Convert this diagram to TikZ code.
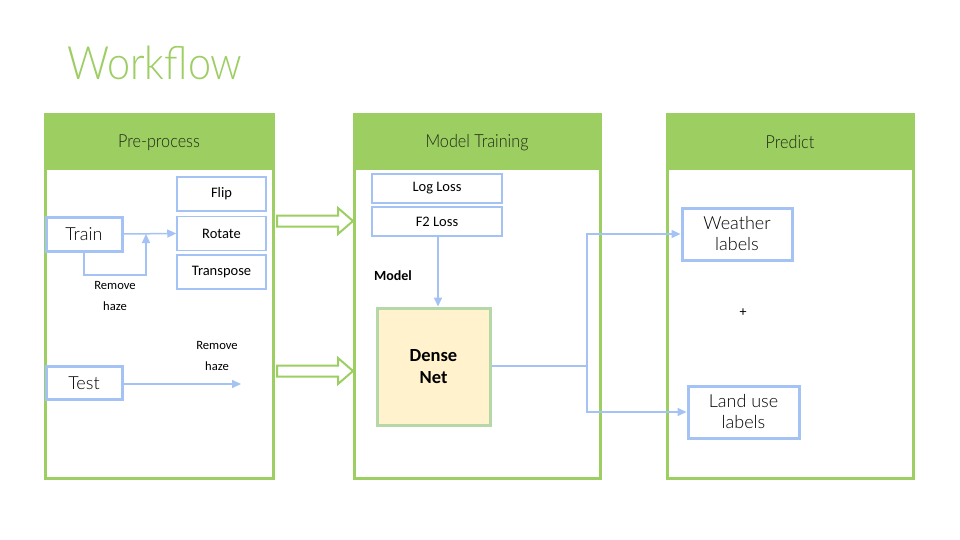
\documentclass[tikz,border=0pt]{standalone}
\usepackage{fontspec}
\setmainfont{Carlito}
\newfontfamily\thin{Lato Light}
\newfontfamily\thinnar{Lato Light}[FakeStretch=0.9]
\usetikzlibrary{arrows.meta}
\definecolor{pgreen}{RGB}{156,206,98}
\definecolor{pblue}{RGB}{164,194,244}
\definecolor{dgreen}{RGB}{182,215,168}
\definecolor{dfill}{RGB}{255,242,204}
\definecolor{htext}{RGB}{30,40,20}
\tikzset{
  panel/.style={draw=pgreen,line width=3pt,fill=white},
  header/.style={fill=pgreen},
  htitle/.style={font=\thinnar\fontsize{18}{20}\selectfont,text=htext},
  opbox/.style={draw=pblue,line width=1.5pt,fill=white,inner sep=0pt,font=\fontsize{14.5}{16}\selectfont},
  iobox/.style={draw=pblue,line width=3pt,fill=white,inner sep=0pt,font=\thin\fontsize{18}{21}\selectfont,align=center},
  flow/.style={draw=pblue,line width=1.5pt,-{Triangle[length=9pt,width=8pt]}},
  flowline/.style={draw=pblue,line width=1.5pt},
  note/.style={font=\fontsize{12.6}{21}\selectfont,align=center},
  hollow/.style={draw=pgreen,line width=2pt,fill=white,line join=miter}
}
\begin{document}
\begin{tikzpicture}[x=1pt,y=-1pt]
\useasboundingbox (0,0) rectangle (960,540);
\fill[white] (0,0) rectangle (960,540);
\node[anchor=base west,inner sep=0pt,text=pgreen,font=\thinnar\fontsize{46}{50}\selectfont] (title) at (67,80) {Workflow};
% panels
\foreach \n/\xa/\xb/\t in {p1/45/273/Pre-process,p2/354/600/Model Training,p3/667/913/Predict}{
  \draw[panel] (\xa,115) rectangle (\xb,478);
  \fill[header] (\xa,115) rectangle (\xb,170);
  \draw[pgreen,line width=3pt] (\xa,115) rectangle (\xb,478);
  \node[htitle] (\n) at ({(\xa+\xb)/2},142.5) {\t};
}
% panel 1
\node[opbox,minimum width=89pt,minimum height=34pt] (flip) at (221.5,194) {Flip};
\node[opbox,minimum width=89pt,minimum height=34pt] (rotate) at (221.5,233.5) {Rotate};
\node[opbox,minimum width=89pt,minimum height=34pt] (transpose) at (221.5,272) {Transpose};
\node[iobox,minimum width=76pt,minimum height=34pt] (train) at (84,234) {Train};
\node[iobox,minimum width=76pt,minimum height=33pt] (test) at (84,383) {Test};
\coordinate (j1) at (146,234);
\draw[flow] (train.east) -- (rotate.west);
\draw[flow] (train.south) |- (146,275) -- (j1);
\node[note] (rh1) at (115,296) {Remove\\haze};
\coordinate (testend) at (241,384);
\draw[flow] (test.east |- testend) -- (testend);
\node[note] (rh2) at (217,356) {Remove\\haze};
% hollow arrows
\foreach \yy in {221,371}{
  \draw[hollow] (277,\yy-5.5) -- (338,\yy-5.5) -- (338,\yy-13) -- (353,\yy) -- (338,\yy+13) -- (338,\yy+5.5) -- (277,\yy+5.5) -- cycle;
}
% panel 2
\node[opbox,minimum width=130pt,minimum height=29pt] (log) at (437,188.5) {Log Loss};
\node[opbox,minimum width=130pt,minimum height=29pt] (f2) at (437,221.5) {F2 Loss};
\node[font=\bfseries\fontsize{14}{16}\selectfont] (model) at (393,276) {Model};
\node[draw=dgreen,fill=dfill,line width=3pt,minimum width=113pt,minimum height=117pt,inner sep=0pt,align=center,font=\bfseries\fontsize{18.5}{22}\selectfont] (dense) at (433.5,366.5) {Dense\\Net};
\draw[flow] (f2.south -| 438,0) -- (dense.north -| 438,0);
% panel 3
\node[iobox,minimum width=110pt,minimum height=52pt] (weather) at (737,234) {Weather\\labels};
\node[iobox,minimum width=111pt,minimum height=52pt] (land) at (743.5,412) {Land use\\labels};
\node[font=\fontsize{14}{16}\selectfont] (plus) at (743,313) {+};
\coordinate (split) at (587,366);
\draw[flowline] (dense.east |- split) -- (split);
\draw[flow] (split) |- (weather.west);
\draw[flow] (split) |- (land.west);
\end{tikzpicture}
\end{document}
